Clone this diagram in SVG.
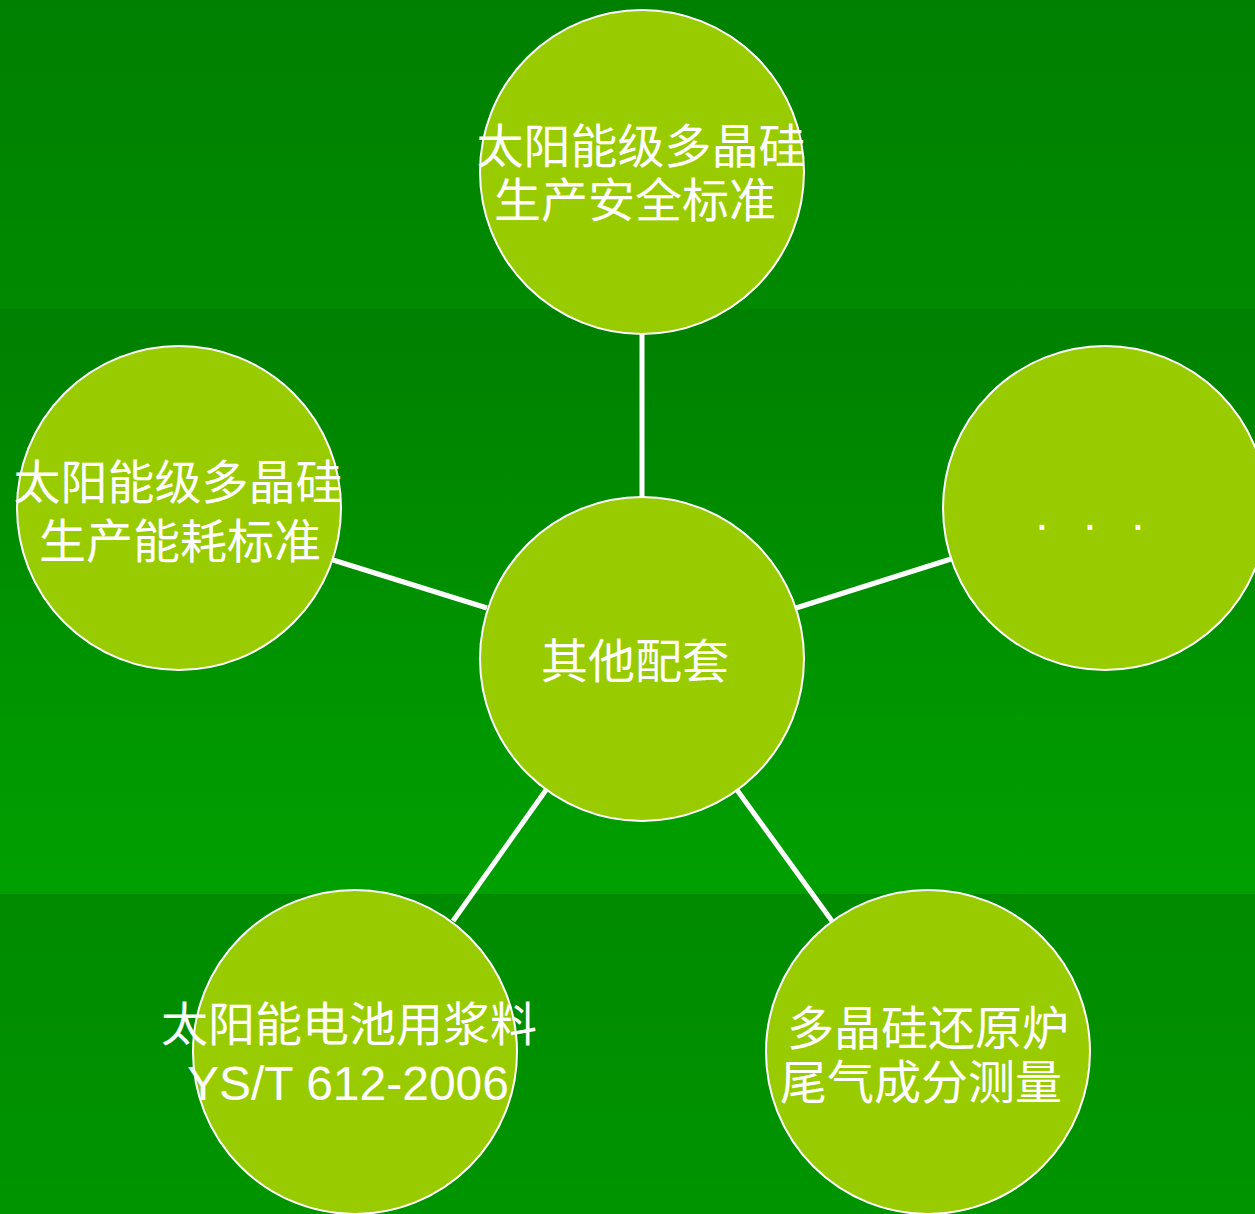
<svg xmlns="http://www.w3.org/2000/svg" width="1255" height="1214" viewBox="0 0 1255 1214">
<defs>
<linearGradient id="g1" x1="0" y1="0" x2="0" y2="1"><stop offset="0" stop-color="#008000"/><stop offset="1" stop-color="#008a00"/></linearGradient>
<linearGradient id="g2" x1="0" y1="0" x2="0" y2="1"><stop offset="0" stop-color="#008000"/><stop offset="1" stop-color="#00a000"/></linearGradient>
<linearGradient id="g3" x1="0" y1="0" x2="0" y2="1"><stop offset="0" stop-color="#008b00"/><stop offset="1" stop-color="#009400"/></linearGradient>
<style>
.node{fill:#99cc00;stroke:#ffffff;stroke-width:2}
.lbl{fill:#ffffff;font-family:"Noto Sans CJK SC","Noto Sans CJK JP",sans-serif;font-size:47px;text-anchor:middle}
.lat{fill:#ffffff;font-family:"Liberation Sans",Arial,sans-serif;font-size:48px;text-anchor:middle}
.edge{stroke:#ffffff;stroke-width:5;fill:none}
</style>
</defs>
<rect x="0" y="0" width="1255" height="309" fill="url(#g1)"/>
<rect x="0" y="309" width="1255" height="585" fill="url(#g2)"/>
<rect x="0" y="894" width="1255" height="320" fill="url(#g3)"/>
<g id="connectors">
<line class="edge" x1="642" y1="334" x2="642" y2="497"/>
<line class="edge" x1="487" y1="608" x2="333" y2="560"/>
<line class="edge" x1="796" y1="608" x2="951" y2="559"/>
<line class="edge" x1="546" y1="790" x2="453" y2="921"/>
<line class="edge" x1="737" y1="790" x2="832" y2="921"/>
</g>
<g id="node-center">
<circle class="node" cx="642" cy="659" r="162"/>
<text class="lbl" x="635" y="678">其他配套</text>
</g>
<g id="node-top">
<circle class="node" cx="642" cy="172" r="162"/>
<text class="lbl" x="641" y="163">太阳能级多晶硅</text>
<text class="lbl" x="635" y="217">生产安全标准</text>
</g>
<g id="node-left">
<circle class="node" cx="179" cy="508" r="162"/>
<text class="lbl" x="178" y="499">太阳能级多晶硅</text>
<text class="lbl" x="180" y="558">生产能耗标准</text>
</g>
<g id="node-right">
<circle class="node" cx="1105" cy="508" r="162"/>
<text class="lat" x="1042 1090 1138" y="530">...</text>
</g>
<g id="node-bottom-left">
<circle class="node" cx="355" cy="1052" r="162"/>
<text class="lbl" x="349" y="1041">太阳能电池用浆料</text>
<text class="lat" x="348" y="1100">YS/T 612-2006</text>
</g>
<g id="node-bottom-right">
<circle class="node" cx="928" cy="1052" r="162"/>
<text class="lbl" x="928" y="1045">多晶硅还原炉</text>
<text class="lbl" x="921" y="1099">尾气成分测量</text>
</g>
</svg>
